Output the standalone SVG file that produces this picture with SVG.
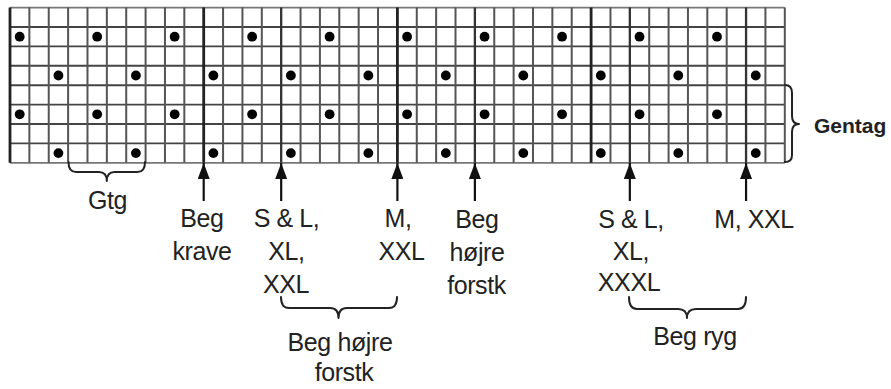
<svg xmlns="http://www.w3.org/2000/svg" width="891" height="389" viewBox="0 0 891 389">
<style>
.t{font-family:"Liberation Sans",Arial,Helvetica,sans-serif;font-size:25px;fill:#222;text-anchor:middle;letter-spacing:-0.4px}
.g{font-family:"Liberation Sans",Arial,Helvetica,sans-serif;font-size:21px;font-weight:bold;fill:#222}
.gl{stroke:#555;stroke-width:2;fill:none}
.hl{stroke:#444;stroke-width:1.9;fill:none}
.bd{stroke:#777;stroke-width:1.8;fill:none}
.thk{stroke:#222;stroke-width:2.8;fill:none}
.med{stroke:#333;stroke-width:2.3;fill:none}
.br{stroke:#222;stroke-width:2;fill:none;stroke-linecap:round;stroke-linejoin:round}
.ar{stroke:#111;stroke-width:2.2}
.dot{fill:#000}
</style>
<defs>
<marker id="ah" markerUnits="userSpaceOnUse" markerWidth="16" markerHeight="12" refX="16" refY="6" orient="auto">
<path d="M0,0 L16,6 L0,12 z" fill="#111"/>
</marker>
<circle id="d" r="4.9" class="dot"/>
</defs>
<rect width="891" height="389" fill="#fff"/>
<g id="grid">
<rect x="10" y="7.6" width="774.8" height="155.2" fill="#fff"/>
<path class="hl" d="M10,27H784.8M10,46.4H784.8M10,65.8H784.8M10,85.2H784.8M10,104.6H784.8M10,124H784.8M10,143.4H784.8"/>
<path class="bd" d="M10,7.6H784.8M10,162.8H784.8"/>
<path class="gl" d="M29.37,7.6V162.8M48.74,7.6V162.8M68.11,7.6V162.8M87.48,7.6V162.8M106.85,7.6V162.8M126.22,7.6V162.8M145.59,7.6V162.8M164.96,7.6V162.8M184.33,7.6V162.8M223.07,7.6V162.8M242.44,7.6V162.8M261.81,7.6V162.8M300.55,7.6V162.8M319.92,7.6V162.8M339.29,7.6V162.8M358.66,7.6V162.8M378.03,7.6V162.8M416.77,7.6V162.8M436.14,7.6V162.8M455.51,7.6V162.8M494.25,7.6V162.8M513.62,7.6V162.8M532.99,7.6V162.8M552.36,7.6V162.8M571.73,7.6V162.8M610.47,7.6V162.8M649.21,7.6V162.8M668.58,7.6V162.8M687.95,7.6V162.8M707.32,7.6V162.8M726.69,7.6V162.8M765.43,7.6V162.8M784.8,7.6V162.8"/>
<path class="med" d="M281.18,7.6V162.8M474.88,7.6V162.8M629.84,7.6V162.8M746.06,7.6V162.8"/>
<path class="thk" d="M10,7.6V162.8M203.7,7.6V162.8M397.4,7.6V162.8M591.1,7.6V162.8"/>
</g>
<g id="dots">
<use href="#d" x="19.69" y="36.7"/><use href="#d" x="97.17" y="36.7"/><use href="#d" x="174.65" y="36.7"/><use href="#d" x="252.13" y="36.7"/><use href="#d" x="329.61" y="36.7"/><use href="#d" x="407.09" y="36.7"/><use href="#d" x="484.57" y="36.7"/><use href="#d" x="562.05" y="36.7"/><use href="#d" x="639.53" y="36.7"/><use href="#d" x="717.01" y="36.7"/>
<use href="#d" x="58.43" y="75.5"/><use href="#d" x="135.91" y="75.5"/><use href="#d" x="213.39" y="75.5"/><use href="#d" x="290.87" y="75.5"/><use href="#d" x="368.35" y="75.5"/><use href="#d" x="445.83" y="75.5"/><use href="#d" x="523.31" y="75.5"/><use href="#d" x="600.79" y="75.5"/><use href="#d" x="678.27" y="75.5"/><use href="#d" x="755.75" y="75.5"/>
<use href="#d" x="19.69" y="114.3"/><use href="#d" x="97.17" y="114.3"/><use href="#d" x="174.65" y="114.3"/><use href="#d" x="252.13" y="114.3"/><use href="#d" x="329.61" y="114.3"/><use href="#d" x="407.09" y="114.3"/><use href="#d" x="484.57" y="114.3"/><use href="#d" x="562.05" y="114.3"/><use href="#d" x="639.53" y="114.3"/><use href="#d" x="717.01" y="114.3"/>
<use href="#d" x="58.43" y="153.1"/><use href="#d" x="135.91" y="153.1"/><use href="#d" x="213.39" y="153.1"/><use href="#d" x="290.87" y="153.1"/><use href="#d" x="368.35" y="153.1"/><use href="#d" x="445.83" y="153.1"/><use href="#d" x="523.31" y="153.1"/><use href="#d" x="600.79" y="153.1"/><use href="#d" x="678.27" y="153.1"/><use href="#d" x="755.75" y="153.1"/>
</g>
<g id="connectors">
<line class="ar" x1="203.7" y1="201" x2="203.7" y2="163" marker-end="url(#ah)"/>
<line class="ar" x1="281.18" y1="201" x2="281.18" y2="163" marker-end="url(#ah)"/>
<line class="ar" x1="397.4" y1="201" x2="397.4" y2="163" marker-end="url(#ah)"/>
<line class="ar" x1="474.88" y1="201" x2="474.88" y2="163" marker-end="url(#ah)"/>
<line class="ar" x1="629.84" y1="201" x2="629.84" y2="163" marker-end="url(#ah)"/>
<line class="ar" x1="746.06" y1="201" x2="746.06" y2="163" marker-end="url(#ah)"/>
</g>
<g id="braces">
<path class="br" d="M68.5,162 Q68.5,172 76,172 H99 Q106.8,172 106.8,181 Q106.8,172 114.6,172 H137.5 Q145,172 145,162"/>
<path class="br" d="M281,297 Q281,308 289,308 H330 Q338.5,308 338.5,318 Q338.5,308 347,308 H389 Q397,308 397,297"/>
<path class="br" d="M629,297 Q629,309 637,309 H678 Q687,309 687,318 Q687,309 696,309 H738 Q746,309 746,297"/>
<path class="br" d="M785,85 Q792,85 792,93 V116 Q792,124 799,124 Q792,124 792,132 V155 Q792,162 785,162"/>
</g>
<g id="labels">
<text class="t" x="107.5" y="209">Gtg</text>
<text class="t" x="202" y="227">Beg</text>
<text class="t" x="202" y="260">krave</text>
<text class="t" x="286.5" y="227">S &amp; L,</text>
<text class="t" x="286.5" y="260">XL,</text>
<text class="t" x="286" y="293">XXL</text>
<text class="t" x="398" y="227">M,</text>
<text class="t" x="401.5" y="260">XXL</text>
<text class="t" x="477" y="228">Beg</text>
<text class="t" x="477" y="261">højre</text>
<text class="t" x="476.5" y="294">forstk</text>
<text class="t" x="631" y="228">S &amp; L,</text>
<text class="t" x="631" y="260">XL,</text>
<text class="t" x="629" y="291">XXXL</text>
<text class="t" x="754" y="228">M, XXL</text>
<text class="t" x="340" y="351">Beg højre</text>
<text class="t" x="344" y="381">forstk</text>
<text class="t" x="695" y="345">Beg ryg</text>
<text class="g" x="814" y="133">Gentag</text>
</g>
</svg>
